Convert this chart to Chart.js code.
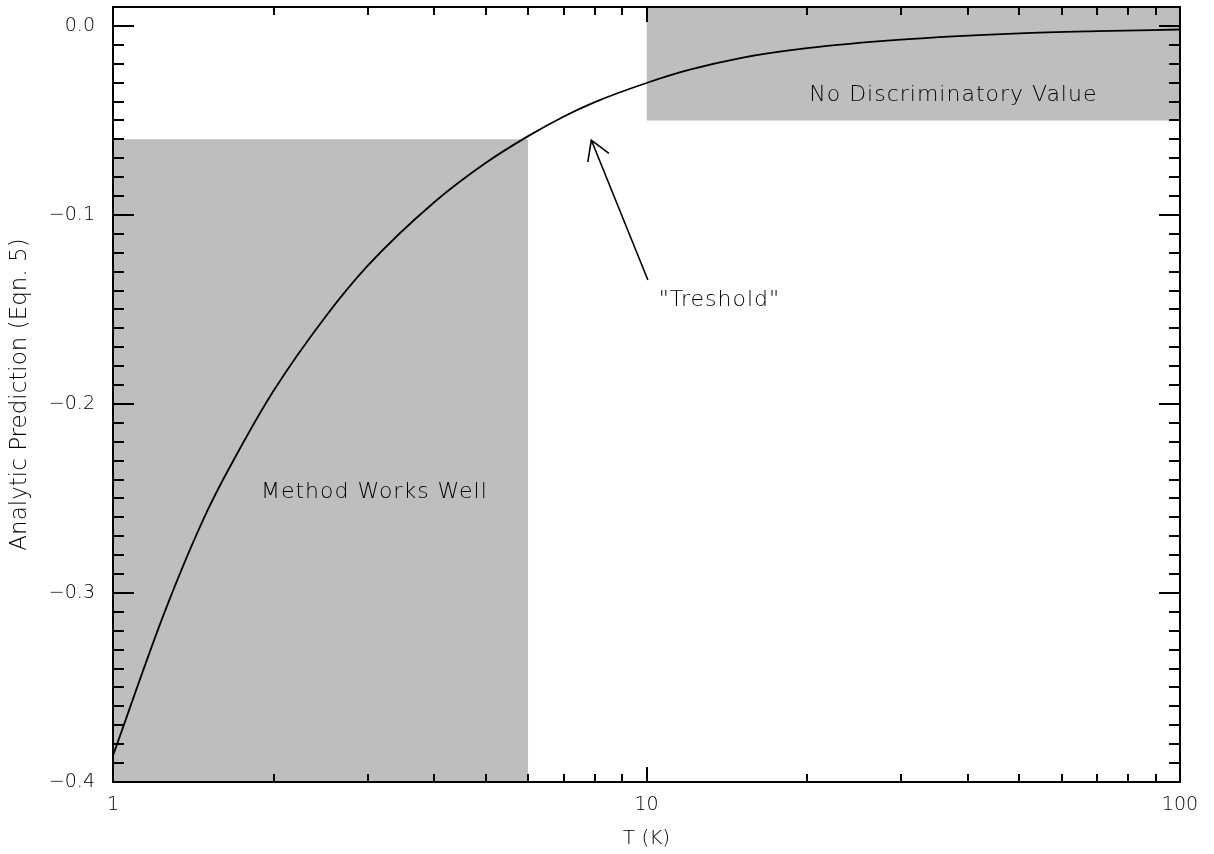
<!DOCTYPE html>
<html>
<head>
<meta charset="utf-8">
<title>Analytic Prediction vs T</title>
<script src="https://cdn.jsdelivr.net/npm/chart.js@4"></script>
<style>
  html, body { margin: 0; padding: 0; background: #fff; }
  #wrap { width: 1214px; height: 854px; }
</style>
</head>
<body>
<div id="wrap"><canvas id="chart" width="1214" height="854"></canvas></div>
<script>
// curve (smoothed by eye)
const tempK = [1, 1.25, 1.5, 1.75, 2, 2.5, 3, 4, 5, 6, 7, 8, 10, 12, 15, 20, 30, 50, 70, 100];
const prediction = [-0.386, -0.310, -0.257, -0.221, -0.193, -0.154, -0.127, -0.0933, -0.0724, -0.0583, -0.0479, -0.0403, -0.0302, -0.0233, -0.0170, -0.0118, -0.0073, -0.0040, -0.0028, -0.0019];

// shaded regions
const worksWellT = [1, 6];
const worksWellTop = -0.06;
const noValueT = [10, 100];
const noValueBottom = -0.05;

// axes
const xTicks = [1, 10, 100];
const xLabels = ['1', '10', '100'];
const xMinor = [2, 3, 4, 5, 6, 7, 8, 9, 20, 30, 40, 50, 60, 70, 80, 90];
const yTicks = [-0.4, -0.3, -0.2, -0.1, 0.0];
const yLabels = ['\u22120.4', '\u22120.3', '\u22120.2', '\u22120.1', '0.0'];
const yMin = -0.4, yMax = 0.01;

// notes
const notes = [
  {text: 'Method Works Well', x: 3.09, y: -0.2465},
  {text: 'No Discriminatory Value', x: 37.6, y: -0.0366},
  {text: '"Treshold"', x: 13.7, y: -0.145}
];
const arrowTip = {x: 7.88, y: -0.0604};
const arrowTail = {x: 10.06, y: -0.1344};

const FONT = '"DejaVu Sans", sans-serif';

const idlFrame = {
  id: 'idlFrame',
  afterDatasetsDraw(chart) {
    const {ctx, chartArea: a, scales: {x, y}} = chart;
    ctx.save();
    ctx.strokeStyle = '#000';
    ctx.lineWidth = 2;
    ctx.lineCap = 'butt';

    // ticks on all four sides, pointing in
    ctx.beginPath();
    const xt = (v, len) => {
      const px = Math.round(x.getPixelForValue(v));
      ctx.moveTo(px, a.bottom); ctx.lineTo(px, a.bottom - len);
      ctx.moveTo(px, a.top); ctx.lineTo(px, a.top + len);
    };
    xTicks.forEach(v => xt(v, 15));
    xMinor.forEach(v => xt(v, 8));
    for (let i = 0; i <= 41; i++) {
      const v = Math.round((yMin + i * 0.01) * 100) / 100;
      if (v > yMax + 1e-9) break;
      const major = Math.abs(v * 10 - Math.round(v * 10)) < 1e-6;
      const len = major ? 21 : 11;
      const py = Math.round(y.getPixelForValue(v));
      ctx.moveTo(a.left, py); ctx.lineTo(a.left + len, py);
      ctx.moveTo(a.right, py); ctx.lineTo(a.right - len, py);
    }
    ctx.stroke();

    // frame
    ctx.strokeRect(a.left, a.top, a.right - a.left, a.bottom - a.top);

    // notes
    ctx.fillStyle = '#000';
    ctx.font = '200 22px ' + FONT;
    ctx.textAlign = 'center';
    ctx.textBaseline = 'middle';
    if ('letterSpacing' in ctx) ctx.letterSpacing = '1px';
    notes.forEach(n => ctx.fillText(n.text, x.getPixelForValue(n.x), y.getPixelForValue(n.y)));

    // arrow
    const tx = x.getPixelForValue(arrowTip.x), ty = y.getPixelForValue(arrowTip.y);
    const bx = x.getPixelForValue(arrowTail.x), by = y.getPixelForValue(arrowTail.y);
    const ang = Math.atan2(by - ty, bx - tx);
    const head = 22, spread = 31 * Math.PI / 180;
    ctx.lineWidth = 1.6;
    ctx.beginPath();
    ctx.moveTo(bx, by); ctx.lineTo(tx, ty);
    ctx.moveTo(tx + head * Math.cos(ang - spread), ty + head * Math.sin(ang - spread));
    ctx.lineTo(tx, ty);
    ctx.lineTo(tx + head * Math.cos(ang + spread), ty + head * Math.sin(ang + spread));
    ctx.stroke();
    ctx.restore();
  }
};

const ctx = document.querySelector('#chart').getContext('2d');

new Chart(ctx, {
  type: 'line',
  data: {
    datasets: [
      {
        data: tempK.map((t, i) => ({x: t, y: prediction[i]})),
        borderColor: '#000',
        borderWidth: 1.8,
        pointRadius: 0,
        cubicInterpolationMode: 'monotone',
        fill: false
      },
      {
        data: worksWellT.map(t => ({x: t, y: worksWellTop})),
        borderWidth: 0,
        pointRadius: 0,
        backgroundColor: '#bebebe',
        fill: 'start'
      },
      {
        data: noValueT.map(t => ({x: t, y: noValueBottom})),
        borderWidth: 0,
        pointRadius: 0,
        backgroundColor: '#bebebe',
        fill: 'end'
      }
    ]
  },
  options: {
    responsive: false,
    animation: false,
    layout: {padding: {top: 7, right: 34, left: 0, bottom: 0}},
    plugins: {
      legend: {display: false},
      tooltip: {enabled: false}
    },
    scales: {
      x: {
        type: 'logarithmic',
        min: 1,
        max: 100,
        grid: {display: false, drawTicks: false},
        border: {display: false},
        afterBuildTicks: s => { s.ticks = xTicks.map(v => ({value: v})); },
        afterFit: s => { s.height = 72; s.paddingLeft = 0; s.paddingRight = 0; },
        ticks: {
          autoSkip: false,
          maxRotation: 0,
          padding: 12,
          color: '#000',
          font: {family: FONT, size: 19, weight: '200'},
          callback: (v, i) => xLabels[i]
        },
        title: {
          display: true,
          text: 'T (K)',
          color: '#000',
          font: {family: FONT, size: 20, weight: '200'},
          padding: {top: 0, bottom: 3}
        }
      },
      y: {
        type: 'linear',
        min: yMin,
        max: yMax,
        grid: {display: false, drawTicks: false},
        border: {display: false},
        afterBuildTicks: s => { s.ticks = yTicks.map(v => ({value: v})); },
        afterFit: s => { s.width = 113; s.paddingTop = 0; s.paddingBottom = 0; },
        ticks: {
          autoSkip: false,
          padding: 18,
          color: '#000',
          font: {family: FONT, size: 19, weight: '200'},
          callback: (v, i) => yLabels[i]
        },
        title: {
          display: true,
          text: 'Analytic Prediction (Eqn. 5)',
          color: '#000',
          font: {family: FONT, size: 23, weight: '200'},
          padding: {top: 6, bottom: 0}
        }
      }
    }
  },
  plugins: [idlFrame]
});
</script>
</body>
</html>
